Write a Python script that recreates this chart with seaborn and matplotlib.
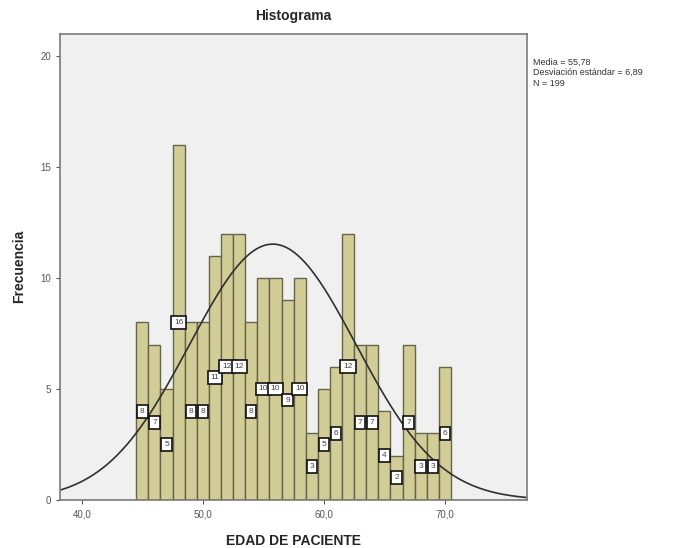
import numpy as np
import pandas as pd
import seaborn as sns
import matplotlib
matplotlib.use("Agg")
import matplotlib.pyplot as plt

# -------- DATA --------
edad = [45, 46, 47, 48, 49, 50, 51, 52, 53, 54, 55, 56, 57,
        58, 59, 60, 61, 62, 63, 64, 65, 66, 67, 68, 69, 70]
frecuencia = [8, 7, 5, 16, 8, 8, 11, 12, 12, 8, 10, 10, 9,
              10, 3, 5, 6, 12, 7, 7, 4, 2, 7, 3, 3, 6]
media = 55.78
desv = 6.89
n_total = 199

x_ticks = [40, 50, 60, 70]
x_tick_labels = ["40,0", "50,0", "60,0", "70,0"]
y_ticks = [0, 5, 10, 15, 20]

df = pd.DataFrame({"edad": edad, "frecuencia": frecuencia})

# -------- STYLE --------
sns.set_style("white")
plt.rcParams["font.family"] = ["Liberation Sans", "DejaVu Sans"]

fig = plt.figure(figsize=(6.86, 5.48), dpi=100)
ax = fig.add_axes([0.0875, 0.0876, 0.681, 0.851])
ax.set_facecolor("#f0f0f0")

# -------- HISTOGRAM (one bar per integer age) --------
sns.histplot(data=df, x="edad", weights="frecuencia", discrete=True,
             color="#d2cc96", edgecolor="#66664a", linewidth=1.0,
             alpha=1, ax=ax)

# count labels in white boxes at half height
for cont in ax.containers:
    ax.bar_label(cont, labels=[str(v) for v in frecuencia], label_type="center",
                 fontsize=6, color="#444444",
                 bbox=dict(boxstyle="square,pad=0.35", fc="white",
                           ec="#111111", lw=1.2))

# -------- NORMAL CURVE --------
xs = np.linspace(38.2, 76.8, 400)
ys = n_total * np.exp(-0.5 * ((xs - media) / desv) ** 2) / (desv * np.sqrt(2 * np.pi))
ax.plot(xs, ys, color="#303030", lw=1.2)

# -------- AXES --------
ax.set_xlim(38.2, 76.8)
ax.set_ylim(0, 21)
ax.set_xticks(x_ticks)
ax.set_xticklabels(x_tick_labels)
ax.set_yticks(y_ticks)
ax.tick_params(axis="both", labelsize=7, colors="#555555", length=3,
               direction="out", bottom=True, left=True)
for s in ax.spines.values():
    s.set_color("#7a7a7a")
    s.set_linewidth(1.2)

ax.set_title("Histograma", fontsize=10, fontweight="bold", pad=10)
ax.set_xlabel("EDAD DE PACIENTE", fontsize=10, fontweight="bold", labelpad=11)
ax.set_ylabel("Frecuencia", fontsize=10, fontweight="bold", labelpad=10)

fig.text(0.777, 0.895,
         "Media = 55,78\nDesviación estándar = 6,89\nN = 199",
         fontsize=6.5, color="#333333", va="top", ha="left", linespacing=1.25)

fig.savefig("out.png", dpi=100)
